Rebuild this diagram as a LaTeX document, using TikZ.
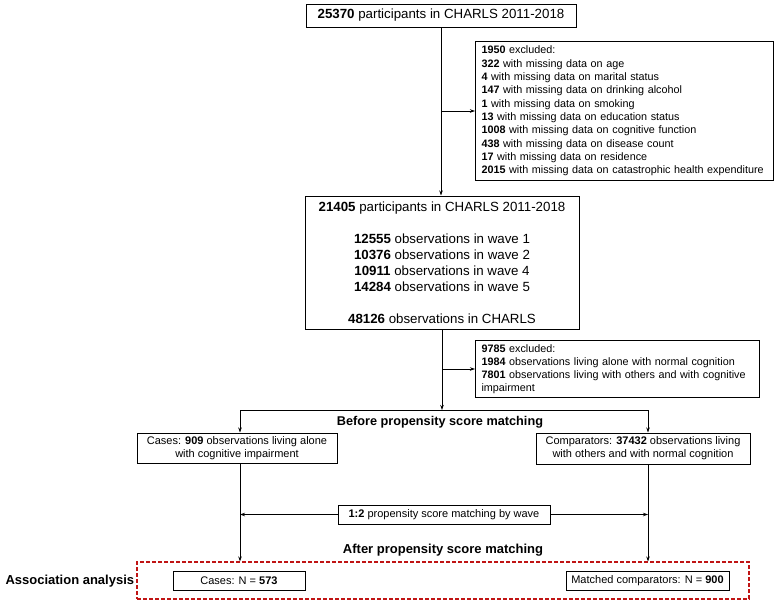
\documentclass[tikz,border=0pt]{standalone}
\usepackage{fontspec}
\setmainfont{Liberation Sans}
\usetikzlibrary{arrows.meta}
\definecolor{dred}{RGB}{192,20,20}
\begin{document}
\begin{tikzpicture}[x=1pt,y=-1pt,
  box/.style={draw, line width=1pt, inner sep=0pt, align=center},
  arr/.style={line width=0.8pt, -{Stealth[length=5pt,width=3.5pt]}},
  mainf/.style={font=\fontsize{13.3}{16}\selectfont},
  midf/.style={font=\fontsize{11}{13}\selectfont},
  smallf/.style={font=\fontsize{10.8}{13.3}\selectfont},
  head/.style={font=\fontsize{13}{15}\selectfont\bfseries},
]
\useasboundingbox (0,0) rectangle (779,600);

% main column
\node[box, mainf, minimum width=270, minimum height=23] (top) at (441,15.5)
  {\textbf{25370} participants in CHARLS 2011-2018};
\coordinate (c1) at (441,0);
\node[box, smallf, anchor=north west, minimum width=298, minimum height=139,
      text width=286, align=left] (ex1) at (475,41)
  {\textbf{1950} excluded:\\
   \textbf{322} with missing data on age\\
   \textbf{4} with missing data on marital status\\
   \textbf{147} with missing data on drinking alcohol\\
   \textbf{1} with missing data on smoking\\
   \textbf{13} with missing data on education status\\
   \textbf{1008} with missing data on cognitive function\\
   \textbf{438} with missing data on disease count\\
   \textbf{17} with missing data on residence\\
   \textbf{2015} with missing data on catastrophic health expenditure};
\node[box, mainf, minimum width=274, minimum height=133] (b2) at (442,262.5)
  {\textbf{21405} participants in CHARLS 2011-2018\\[16pt]
   \textbf{12555} observations in wave 1\\
   \textbf{10376} observations in wave 2\\
   \textbf{10911} observations in wave 4\\
   \textbf{14284} observations in wave 5\\[16pt]
   \textbf{48126} observations in CHARLS};
\draw[arr] (top.south -| c1) -- (b2.north -| c1);
\draw[arr] (ex1.west -| c1) -- (ex1.west);

\coordinate (c2) at (442,0);
\node[box, anchor=north west, minimum width=284, minimum height=57,
      text width=272, align=left, font=\fontsize{10.8}{13}\selectfont] (ex2) at (475,340)
  {\textbf{9785} excluded:\\
   \textbf{1984} observations living alone with normal cognition\\
   \textbf{7801} observations living with others and with cognitive\\
   impairment};
\coordinate (hb) at (442,410);
\draw[arr] (b2.south -| c2) -- (hb);
\draw[arr] (ex2.west -| c2) -- (ex2.west);

% split
\coordinate (lx) at (240,0);
\coordinate (rx) at (648,0);
\node[box, midf, minimum width=200, minimum height=30] (cases) at (237,448)
  {Cases: \textbf{909} observations living alone\\with cognitive impairment};
\node[box, midf, minimum width=214, minimum height=31] (comp) at (643,448.5)
  {Comparators: \textbf{37432} observations living\\with others and with normal cognition};
\draw[arr] (hb) -| (cases.north -| lx);
\draw[arr] (hb) -| (comp.north -| rx);
\node[head, font=\fontsize{12.7}{15}\selectfont\bfseries] (before) at (440,422) {Before propensity score matching};

% association box
\node[draw=dred, dash pattern=on 4pt off 2pt, line width=1.1pt, minimum width=612,
      minimum height=37, inner sep=0pt] (assoc) at (443,580.5) {};
\draw[arr] (cases.south -| lx) -- (assoc.north -| lx);
\draw[arr] (comp.south -| rx) -- (assoc.north -| rx);

\node[box, midf, minimum width=212, minimum height=19] (match) at (444,514.5)
  {\textbf{1:2} propensity score matching by wave};
\draw[arr] (match.west) -- (match.west -| lx);
\draw[arr] (match.east) -- (match.east -| rx);

\node[head] (after) at (443,550) {After propensity score matching};
\node[head, anchor=west] (aa) at (2,581) {Association analysis};
\node[box, midf, minimum width=132, minimum height=19] (cn) at (239,580.5)
  {Cases: N = \textbf{573}};
\node[box, midf, minimum width=163, minimum height=19] (mc) at (647.5,580.5)
  {Matched comparators: N = \textbf{900}};
\end{tikzpicture}
\end{document}
